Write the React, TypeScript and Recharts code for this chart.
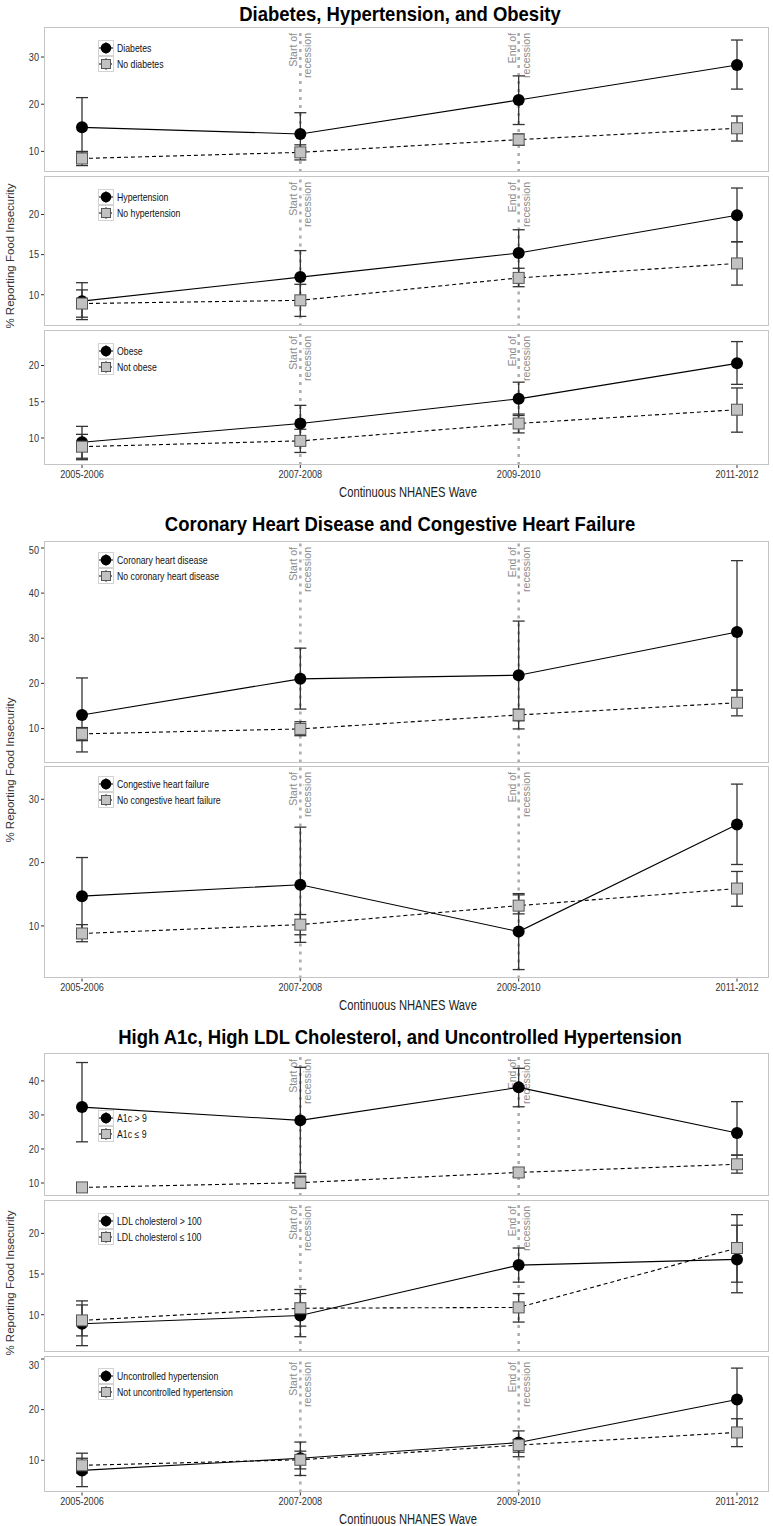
import { LineChart, Line, XAxis, YAxis, ErrorBar, ReferenceLine } from 'recharts'

const waves = ['2005-2006', '2007-2008', '2009-2010', '2011-2012']

// Diabetes, Hypertension, and Obesity
const diabetes = [15.1, 13.7, 20.9, 28.3]
const diabetesLo = [10.0, 10.2, 15.7, 23.2]
const diabetesHi = [21.4, 18.2, 26.0, 33.6]
const noDiabetes = [8.5, 9.8, 12.5, 14.9]
const noDiabetesLo = [7.0, 8.2, 11.3, 12.2]
const noDiabetesHi = [9.9, 11.4, 13.7, 17.5]

const hypertension = [9.2, 12.2, 15.2, 19.9]
const hypertensionLo = [6.9, 8.9, 12.3, 16.6]
const hypertensionHi = [11.5, 15.5, 18.1, 23.3]
const noHypertension = [8.9, 9.3, 12.1, 13.9]
const noHypertensionLo = [7.2, 7.3, 11.0, 11.2]
const noHypertensionHi = [10.6, 11.3, 13.3, 16.6]

const obese = [9.4, 12.0, 15.4, 20.3]
const obeseLo = [7.2, 9.5, 13.1, 17.4]
const obeseHi = [11.6, 14.5, 17.7, 23.3]
const notObese = [8.8, 9.6, 12.0, 13.9]
const notObeseLo = [7.0, 8.0, 10.7, 10.8]
const notObeseHi = [10.5, 11.2, 13.3, 16.9]

// Coronary Heart Disease and Congestive Heart Failure
const chd = [13.0, 21.0, 21.8, 31.4]
const chdLo = [4.8, 14.3, 9.9, 18.5]
const chdHi = [21.2, 27.8, 33.8, 47.2]
const noChd = [8.8, 9.9, 13.0, 15.7]
const noChdLo = [7.3, 8.4, 11.7, 12.8]
const noChdHi = [10.2, 11.5, 14.3, 18.5]

const chf = [14.7, 16.5, 9.1, 26.0]
const chfLo = [8.6, 7.4, 3.1, 19.7]
const chfHi = [20.8, 25.6, 14.9, 32.4]
const noChf = [8.8, 10.2, 13.2, 15.9]
const noChfLo = [7.5, 8.6, 11.9, 13.1]
const noChfHi = [10.2, 11.8, 15.1, 18.6]

// High A1c, High LDL Cholesterol, and Uncontrolled Hypertension
const a1cHigh = [32.3, 28.4, 38.1, 24.7]
const a1cHighLo = [22.1, 12.8, 32.4, 18.2]
const a1cHighHi = [45.4, 44.0, 43.7, 33.9]
const a1cLow = [8.7, 10.1, 13.1, 15.5]
const a1cLowLo = [7.4, 8.4, 11.9, 12.9]
const a1cLowHi = [10.0, 12.0, 14.4, 18.2]

const ldlHigh = [8.9, 9.9, 16.1, 16.8]
const ldlHighLo = [6.2, 7.3, 14.0, 12.7]
const ldlHighHi = [11.7, 12.6, 18.2, 21.0]
const ldlLow = [9.3, 10.8, 10.9, 18.2]
const ldlLowLo = [7.4, 8.6, 9.1, 14.0]
const ldlLowHi = [11.2, 13.1, 12.6, 22.3]

const uncontrolled = [8.0, 10.4, 13.5, 22.0]
const uncontrolledLo = [4.8, 7.0, 10.7, 16.0]
const uncontrolledHi = [11.4, 13.6, 15.8, 28.2]
const notUncontrolled = [9.0, 10.1, 13.0, 15.5]
const notUncontrolledLo = [7.5, 8.3, 11.6, 12.7]
const notUncontrolledHi = [10.4, 11.8, 14.1, 18.2]

// no narrow face installed, so regular Liberation Sans squeezed horizontally
const SANS = "'Liberation Sans', Arial, sans-serif"
const SQUEEZE = 0.83

type Series = { label: string; est: number[]; lo: number[]; hi: number[] }
type PanelDef = {
  top: number
  height: number
  domain: [number, number]
  ticks: number[]
  legendTop: number
  a: Series
  b: Series
  axis?: boolean
}

const panels: PanelDef[] = [
  {
    top: 27, height: 145, domain: [5.64, 36.36], ticks: [10, 20, 30], legendTop: 40,
    a: { label: 'Diabetes', est: diabetes, lo: diabetesLo, hi: diabetesHi },
    b: { label: 'No diabetes', est: noDiabetes, lo: noDiabetesLo, hi: noDiabetesHi },
  },
  {
    top: 175.5, height: 150.5, domain: [6.04, 24.8], ticks: [10, 15, 20], legendTop: 189,
    a: { label: 'Hypertension', est: hypertension, lo: hypertensionLo, hi: hypertensionHi },
    b: { label: 'No hypertension', est: noHypertension, lo: noHypertensionLo, hi: noHypertensionHi },
  },
  {
    top: 330, height: 135, domain: [6.27, 24.9], ticks: [10, 15, 20], legendTop: 343, axis: true,
    a: { label: 'Obese', est: obese, lo: obeseLo, hi: obeseHi },
    b: { label: 'Not obese', est: notObese, lo: notObeseLo, hi: notObeseHi },
  },
  {
    top: 541, height: 221.5, domain: [2.46, 51.55], ticks: [10, 20, 30, 40, 50], legendTop: 551.5,
    a: { label: 'Coronary heart disease', est: chd, lo: chdLo, hi: chdHi },
    b: { label: 'No coronary heart disease', est: noChd, lo: noChdLo, hi: noChdHi },
  },
  {
    top: 765.5, height: 212.5, domain: [1.69, 35.26], ticks: [10, 20, 30], legendTop: 776, axis: true,
    a: { label: 'Congestive heart failure', est: chf, lo: chfLo, hi: chfHi },
    b: { label: 'No congestive heart failure', est: noChf, lo: noChfLo, hi: noChfHi },
  },
  {
    top: 1053, height: 143, domain: [6.18, 48.2], ticks: [10, 20, 30, 40], legendTop: 1110,
    a: { label: 'A1c > 9', est: a1cHigh, lo: a1cHighLo, hi: a1cHighHi },
    b: { label: 'A1c ≤ 9', est: a1cLow, lo: a1cLowLo, hi: a1cLowHi },
  },
  {
    top: 1200, height: 152, domain: [5.42, 24.1], ticks: [10, 15, 20], legendTop: 1213,
    a: { label: 'LDL cholesterol > 100', est: ldlHigh, lo: ldlHighLo, hi: ldlHighHi },
    b: { label: 'LDL cholesterol ≤ 100', est: ldlLow, lo: ldlLowLo, hi: ldlLowHi },
  },
  {
    top: 1355.5, height: 136.5, domain: [3.64, 30.59], ticks: [10, 20, 30], legendTop: 1368, axis: true,
    a: { label: 'Uncontrolled hypertension', est: uncontrolled, lo: uncontrolledLo, hi: uncontrolledHi },
    b: { label: 'Not uncontrolled hypertension', est: notUncontrolled, lo: notUncontrolledLo, hi: notUncontrolledHi },
  },
]

const titles = [
  { text: 'Diabetes, Hypertension, and Obesity', y: 14 },
  { text: 'Coronary Heart Disease and Congestive Heart Failure', y: 524 },
  { text: 'High A1c, High LDL Cholesterol, and Uncontrolled Hypertension', y: 1037 },
]
const yTitles = [256, 770, 1283]
const xTitles = [492, 1005, 1519]

function rows(a: Series, b: Series) {
  return waves.map((wave, i) => ({
    wave,
    a: a.est[i],
    aErr: [a.est[i] - a.lo[i], a.hi[i] - a.est[i]],
    b: b.est[i],
    bErr: [b.est[i] - b.lo[i], b.hi[i] - b.est[i]],
  }))
}

const CircleDot = (p: any) => (
  <circle key={`c${p.index}`} cx={p.cx} cy={p.cy} r={6} fill="#000" />
)
const SquareDot = (p: any) => (
  <rect key={`s${p.index}`} x={p.cx - 5.5} y={p.cy - 5.5} width={11} height={11} fill="#c2c2c2" stroke="#555" strokeWidth={1} />
)

const YTick = ({ x, y, payload }: any) => (
  <g transform={`translate(${x},${y})`}>
    <text transform={`scale(${SQUEEZE},1)`} textAnchor="end" dominantBaseline="central" fill="#333" fontSize={11} fontFamily={SANS}>
      {payload.value}
    </text>
  </g>
)
const XTick = ({ x, y, payload }: any) => (
  <g transform={`translate(${x},${y})`}>
    <text transform={`scale(${SQUEEZE},1)`} textAnchor="middle" dy="0.71em" fill="#333" fontSize={11} fontFamily={SANS}>
      {payload.value}
    </text>
  </g>
)

function RecessionLabel({ viewBox, first }: any) {
  if (!viewBox) return null
  const x = viewBox.x
  const y = viewBox.y + 6
  return (
    <g fill="#8c8c8c" fontSize={10.5} fontFamily={SANS}>
      <text transform={`translate(${x - 7},${y}) rotate(-90)`} textAnchor="end" dominantBaseline="central">{first}</text>
      <text transform={`translate(${x + 7},${y}) rotate(-90)`} textAnchor="end" dominantBaseline="central">recession</text>
    </g>
  )
}

function Key({ square }: { square?: boolean }) {
  return (
    <svg width={16} height={16} style={{ display: 'block' }}>
      <rect x={0.5} y={0.5} width={15} height={15} fill="#fff" stroke="#d3d3d3" />
      <line x1={1} x2={15} y1={8} y2={8} stroke="#000" strokeDasharray={square ? '3 2' : undefined} />
      <line x1={8} x2={8} y1={2} y2={14} stroke="#444" />
      {square
        ? <rect x={3.5} y={3.5} width={9} height={9} fill="#c2c2c2" stroke="#555" />
        : <circle cx={8} cy={8} r={5.3} fill="#000" />}
    </svg>
  )
}

function PanelLegend({ p }: { p: PanelDef }) {
  const row = (s: Series, square?: boolean) => (
    <div style={{ display: 'flex', alignItems: 'center', height: 16 }}>
      <Key square={square} />
      <span
        style={{
          marginLeft: 3, fontSize: 10.5, fontFamily: SANS, color: '#111', whiteSpace: 'nowrap',
          display: 'inline-block', transform: `scaleX(${SQUEEZE})`, transformOrigin: 'left center',
        }}
      >
        {s.label}
      </span>
    </div>
  )
  return (
    <div style={{ position: 'absolute', left: 98, top: p.legendTop - p.top }}>
      {row(p.a)}
      {row(p.b, true)}
    </div>
  )
}

function Panel({ p }: { p: PanelDef }) {
  const h = p.height + (p.axis ? 22 : 0)
  return (
    <div style={{ position: 'absolute', left: 0, top: p.top, width: 773, height: h }}>
      <LineChart width={773} height={h} data={rows(p.a, p.b)} margin={{ top: 0, right: 4, bottom: 0, left: 0 }}>
        <XAxis
          dataKey="wave"
          hide={!p.axis}
          height={22}
          padding={{ left: 38, right: 32 }}
          axisLine={false}
          tickLine={{ stroke: '#333' }}
          tickSize={3}
          tickMargin={2}
          tick={<XTick />}
          interval={0}
        />
        <YAxis
          width={44}
          type="number"
          domain={p.domain}
          ticks={p.ticks}
          allowDataOverflow
          axisLine={false}
          tickLine={{ stroke: '#333' }}
          tickSize={3}
          tickMargin={2}
          tick={<YTick />}
        />
        <ReferenceLine x="2007-2008" stroke="#ababab" strokeWidth={2.5} strokeDasharray="3 5" label={<RecessionLabel first="Start of" />} />
        <ReferenceLine x="2009-2010" stroke="#ababab" strokeWidth={2.5} strokeDasharray="3 5" label={<RecessionLabel first="End of" />} />
        <Line type="linear" dataKey="a" stroke="#000" strokeWidth={1.1} dot={CircleDot} activeDot={false} isAnimationActive={false}>
          <ErrorBar dataKey="aErr" direction="y" width={6} stroke="#333" strokeWidth={1.3} />
        </Line>
        <Line type="linear" dataKey="b" stroke="#000" strokeWidth={1.1} strokeDasharray="4 3" dot={SquareDot} activeDot={false} isAnimationActive={false}>
          <ErrorBar dataKey="bErr" direction="y" width={6} stroke="#333" strokeWidth={1.3} />
        </Line>
      </LineChart>
      <div
        style={{
          position: 'absolute', left: 44, top: 0, width: 725, height: p.height,
          border: '1px solid #c4c4c4', boxSizing: 'border-box', pointerEvents: 'none',
        }}
      />
      <PanelLegend p={p} />
    </div>
  )
}

export default function App() {
  return (
    <div style={{ position: 'absolute', left: 0, top: 0, width: 773, height: 1526, background: '#fff', overflow: 'hidden' }}>
      {titles.map((t) => (
        <div
          key={t.text}
          style={{
            position: 'absolute', left: 0, width: 800, top: t.y - 13, height: 26, lineHeight: '26px',
            textAlign: 'center', fontFamily: SANS, fontWeight: 'bold', fontSize: 21, color: '#000',
            transform: 'scaleX(0.88)', transformOrigin: 'center',
          }}
        >
          {t.text}
        </div>
      ))}
      {panels.map((p, i) => <Panel key={i} p={p} />)}
      {yTitles.map((y) => (
        <div
          key={y}
          style={{
            position: 'absolute', left: 10 - 100, top: y - 8, width: 200, height: 16, lineHeight: '16px',
            textAlign: 'center', transform: 'rotate(-90deg)', fontFamily: SANS, fontSize: 11.5, color: '#333',
          }}
        >
          % Reporting Food Insecurity
        </div>
      ))}
      {xTitles.map((y) => (
        <div
          key={y}
          style={{
            position: 'absolute', left: 258, top: y - 9, width: 300, height: 18, lineHeight: '18px',
            textAlign: 'center', fontFamily: SANS, fontSize: 14, color: '#222',
            transform: 'scaleX(0.8)', transformOrigin: 'center',
          }}
        >
          Continuous NHANES Wave
        </div>
      ))}
    </div>
  )
}
